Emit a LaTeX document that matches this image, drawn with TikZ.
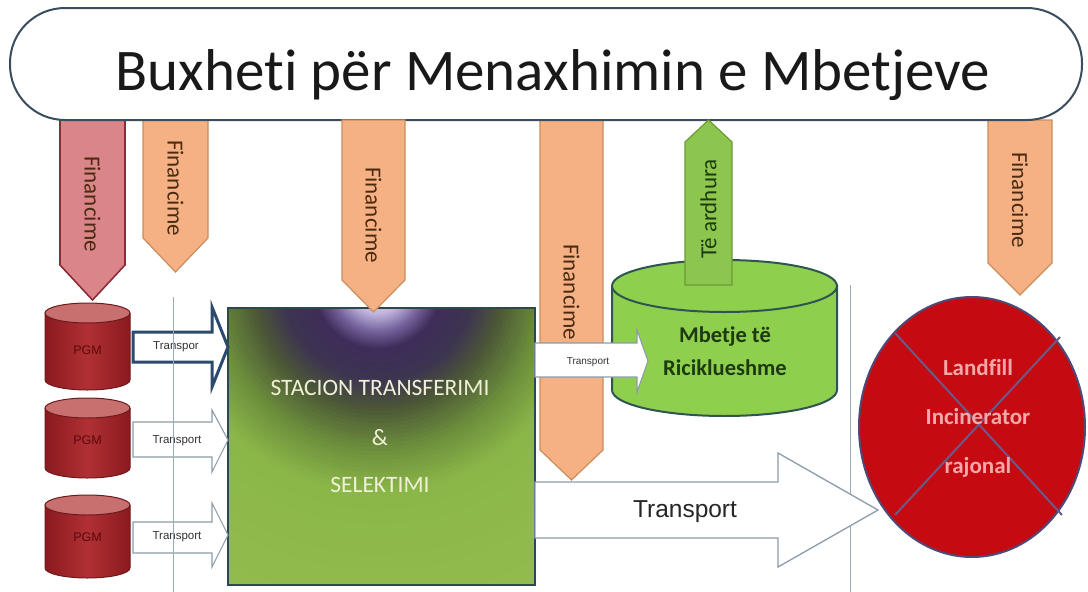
\documentclass[tikz,border=0pt]{standalone}
\usepackage{fontspec}
\setmainfont{Carlito}[Ligatures=NoCommon]
\newfontfamily\arialf{Liberation Sans}[Ligatures=NoCommon]
\definecolor{bannerline}{HTML}{3B4D5E}
\definecolor{orangefill}{HTML}{F5B183}
\definecolor{orangeline}{HTML}{C98E5E}
\definecolor{pinkfill}{HTML}{D98589}
\definecolor{pinkline}{HTML}{8B2D35}
\definecolor{greenarr}{HTML}{8DC64F}
\definecolor{greenarrline}{HTML}{6E9A35}
\definecolor{txtbrown}{HTML}{4A2A10}
\definecolor{pgmfill}{HTML}{B03034}
\definecolor{pgmdark}{HTML}{8A1A1E}
\definecolor{pgmtop}{HTML}{C87070}
\definecolor{pgmline}{HTML}{6E1A1C}
\definecolor{pgmtext}{HTML}{5A0A0A}
\definecolor{cylgreen}{HTML}{8FCF4E}
\definecolor{cylline}{HTML}{2E5552}
\definecolor{cyltext}{HTML}{1E3A10}
\definecolor{redfill}{HTML}{C60A12}
\definecolor{redline}{HTML}{4D4A78}
\definecolor{xline}{HTML}{6A5A8A}
\definecolor{redtext}{HTML}{F2A8A8}
\definecolor{gridline}{HTML}{9AAAB8}
\definecolor{arrowline}{HTML}{8C9CAA}
\definecolor{bluearrow}{HTML}{2B4A6E}
\definecolor{sqline}{HTML}{2C4A4A}
\definecolor{sqtext}{HTML}{F0F0D8}
\definecolor{sA}{HTML}{E4E0F4}
\definecolor{sB}{HTML}{C4B8E0}
\definecolor{sC}{HTML}{76659E}
\definecolor{sD}{HTML}{3E2C5A}
\definecolor{sE}{HTML}{3D3550}
\definecolor{sF}{HTML}{4C5836}
\definecolor{sG}{HTML}{6C8E3C}
\definecolor{sH}{HTML}{8AB648}
\definecolor{sI}{HTML}{94BC4E}
% radial gradient segment: inner radius, outer radius, inner colour, outer colour
\newcommand{\stradseg}[4]{%
  \foreach \k in {0,...,9}{%
    \pgfmathsetmacro{\rr}{#2-(#2-#1)*\k/10}%
    \pgfmathtruncatemacro{\pp}{10*\k}%
    \fill[#3!\pp!#4] (378,285) circle (\rr);%
  }%
}
\begin{document}
\begin{tikzpicture}[x=1pt,y=-1pt,
  finarrow/.style={fill=orangefill, draw=orangeline, line width=1.2pt, line join=miter},
  fintext/.style={font=\fontsize{23}{26}\selectfont, text=txtbrown, rotate=-90, inner sep=0pt},
  tarrow/.style={fill=white, draw=arrowline, line width=1.1pt},
  smalltr/.style={font=\arialf\fontsize{11.5}{13}\selectfont, text=black!80, inner sep=0pt},
  pgmtxt/.style={font=\arialf\fontsize{12.5}{14}\selectfont, text=pgmtext, inner sep=0pt},
  sttext/.style={font=\fontsize{23.5}{27}\selectfont, text=sqtext, inner sep=0pt},
  redtxt/.style={font=\bfseries\fontsize{23}{27}\selectfont, text=redtext, inner sep=0pt},
  cyltxt/.style={font=\bfseries\fontsize{22.5}{26}\selectfont, text=cyltext, inner sep=0pt}]
\useasboundingbox (0,0) rectangle (1088,592);
\fill[white] (0,0) rectangle (1088,592);

% vertical separator behind big arrow
\coordinate (v2top) at (850,285);
\coordinate (v2bot) at (850,592);
\draw[gridline, line width=1pt] (v2top) -- (v2bot);

% funding arrows (down)
\draw[fill=pinkfill, draw=pinkline, line width=1.6pt] (60,120) -- (125,120) -- (125,265) -- (92.5,300) -- (60,265) -- cycle;
\draw[finarrow] (143,120) -- (208,120) -- (208,238) -- (175.5,272) -- (143,238) -- cycle;
\draw[finarrow] (540,120) -- (603,120) -- (603,450) -- (571.5,480) -- (540,450) -- cycle;
\draw[finarrow] (988,120) -- (1052,120) -- (1052,263) -- (1020,295) -- (988,263) -- cycle;

% banner
\draw[fill=white, draw=bannerline, line width=2pt, rounded corners=55pt] (10,8) rectangle (1082,120);
\node[font=\fontsize{59}{64}\selectfont, text=black!90, anchor=base, inner sep=0pt] (title) at (553,90) {Buxheti për Menaxhimin e Mbetjeve};

% station square with radial gradient
\begin{scope}
\clip (228,308) rectangle (535,585);
\fill[sI] (228,308) rectangle (535,585);
\stradseg{209}{360}{sH}{sI}
\stradseg{166}{209}{sG}{sH}
\stradseg{126}{166}{sF}{sG}
\stradseg{97}{126}{sE}{sF}
\stradseg{65}{97}{sD}{sE}
\stradseg{47}{65}{sC}{sD}
\stradseg{29}{47}{sB}{sC}
\stradseg{0}{29}{sA}{sB}
\end{scope}
\draw[sqline, line width=2.5pt] (228,308) rectangle (535,585);
\node[sttext] (st1) at (380,388) {STACION TRANSFERIMI};
\node[sttext] (st2) at (380,438) {\&};
\node[sttext] (st3) at (380,485) {SELEKTIMI};

% funding arrow over station top
\draw[finarrow] (342,120) -- (405,120) -- (405,280) -- (373.5,312) -- (342,280) -- cycle;

% PGM cylinders
\foreach \i/\t/\b/\ty in {1/313/380/350, 2/408/468/440, 3/505/568/537}{
  \shade[left color=pgmdark, right color=pgmdark, middle color=pgmfill]
    (45,\t) -- (45,\b) arc[start angle=180, end angle=0, x radius=42.5, y radius=10] -- (130,\t) -- cycle;
  \draw[pgmline, line width=1pt]
    (45,\t) -- (45,\b) arc[start angle=180, end angle=0, x radius=42.5, y radius=10] -- (130,\t);
  \draw[fill=pgmtop, draw=pgmline, line width=1pt] (87.5,\t) ellipse [x radius=42.5, y radius=10];
  \node[pgmtxt] (pgm\i) at (87.5,\ty) {PGM};
}

% small transport arrows
\draw[fill=white, draw=bluearrow, line width=3pt, line join=miter] (133,332) -- (212,332) -- (212,307) -- (228,347) -- (212,387) -- (212,362) -- (133,362) -- cycle;
\draw[tarrow] (133,422) -- (212,422) -- (212,410) -- (228,440) -- (212,472) -- (212,457) -- (133,457) -- cycle;
\draw[tarrow] (133,522) -- (212,522) -- (212,503) -- (228,535) -- (212,567) -- (212,553) -- (133,553) -- cycle;
\node[smalltr] (tr1) at (176,347) {Transpor};
\node[smalltr] (tr2) at (177,441) {Transport};
\node[smalltr] (tr3) at (177,537) {Transport};

% vertical separator over small arrows
\coordinate (v1top) at (173,297);
\coordinate (v1bot) at (173,592);
\draw[gridline, line width=1pt] (v1top) -- (v1bot);

% recyclables cylinder
\draw[fill=cylgreen, draw=cylline, line width=2pt]
  (612,286) -- (612,390) arc[start angle=180, end angle=0, x radius=112.5, y radius=26] -- (837,286) -- cycle;
\draw[fill=cylgreen, draw=cylline, line width=2pt] (724.5,286) ellipse [x radius=112.5, y radius=26];
\node[cyltxt] (cyl1) at (725,337) {Mbetje të};
\node[cyltxt] (cyl2) at (725,368) {Riciklueshme};

% revenue arrow (up)
\draw[fill=greenarr, draw=greenarrline, line width=1.2pt] (685,285) -- (685,142) -- (708.5,120) -- (732,142) -- (732,285) -- cycle;
\node[font=\fontsize{23}{26}\selectfont, text=cyltext, rotate=90, inner sep=0pt] (rev) at (708.5,209) {Të ardhura};

% transport to recyclables
\draw[tarrow] (535,343) -- (637,343) -- (637,330) -- (648,361) -- (637,392) -- (637,377) -- (535,377) -- cycle;
\node[font=\arialf\fontsize{10}{12}\selectfont, text=black!80, inner sep=0pt] (tr4) at (588,362) {Transport};

% funding labels
\node[fintext] (f1) at (92.5,204) {Financime};
\node[fintext] (f2) at (175.5,188) {Financime};
\node[fintext] (f3) at (373.5,215) {Financime};
\node[fintext] (f4) at (571.5,292) {Financime};
\node[fintext] (f5) at (1020,200) {Financime};

% big transport arrow
\draw[tarrow, line width=1.3pt] (535,482) -- (778,482) -- (778,453) -- (878,510) -- (778,567) -- (778,538) -- (535,538) -- cycle;
\node[font=\arialf\fontsize{24.5}{28}\selectfont, text=black!85, inner sep=0pt] (tr5) at (685,512) {Transport};

% regional landfill / incinerator
\draw[fill=redfill, draw=redline, line width=2pt] (972,427) ellipse [x radius=113, y radius=130];
\coordinate (xa) at (895,333);
\coordinate (xb) at (1062,515);
\coordinate (xc) at (1060,337);
\coordinate (xd) at (895,515);
\draw[xline, line width=2pt] (xa) -- (xb);
\draw[xline, line width=2pt] (xc) -- (xd);
\node[redtxt] (r1) at (978,368) {Landfill};
\node[redtxt] (r2) at (978,417) {Incinerator};
\node[redtxt] (r3) at (978,467) {rajonal};
\end{tikzpicture}
\end{document}
